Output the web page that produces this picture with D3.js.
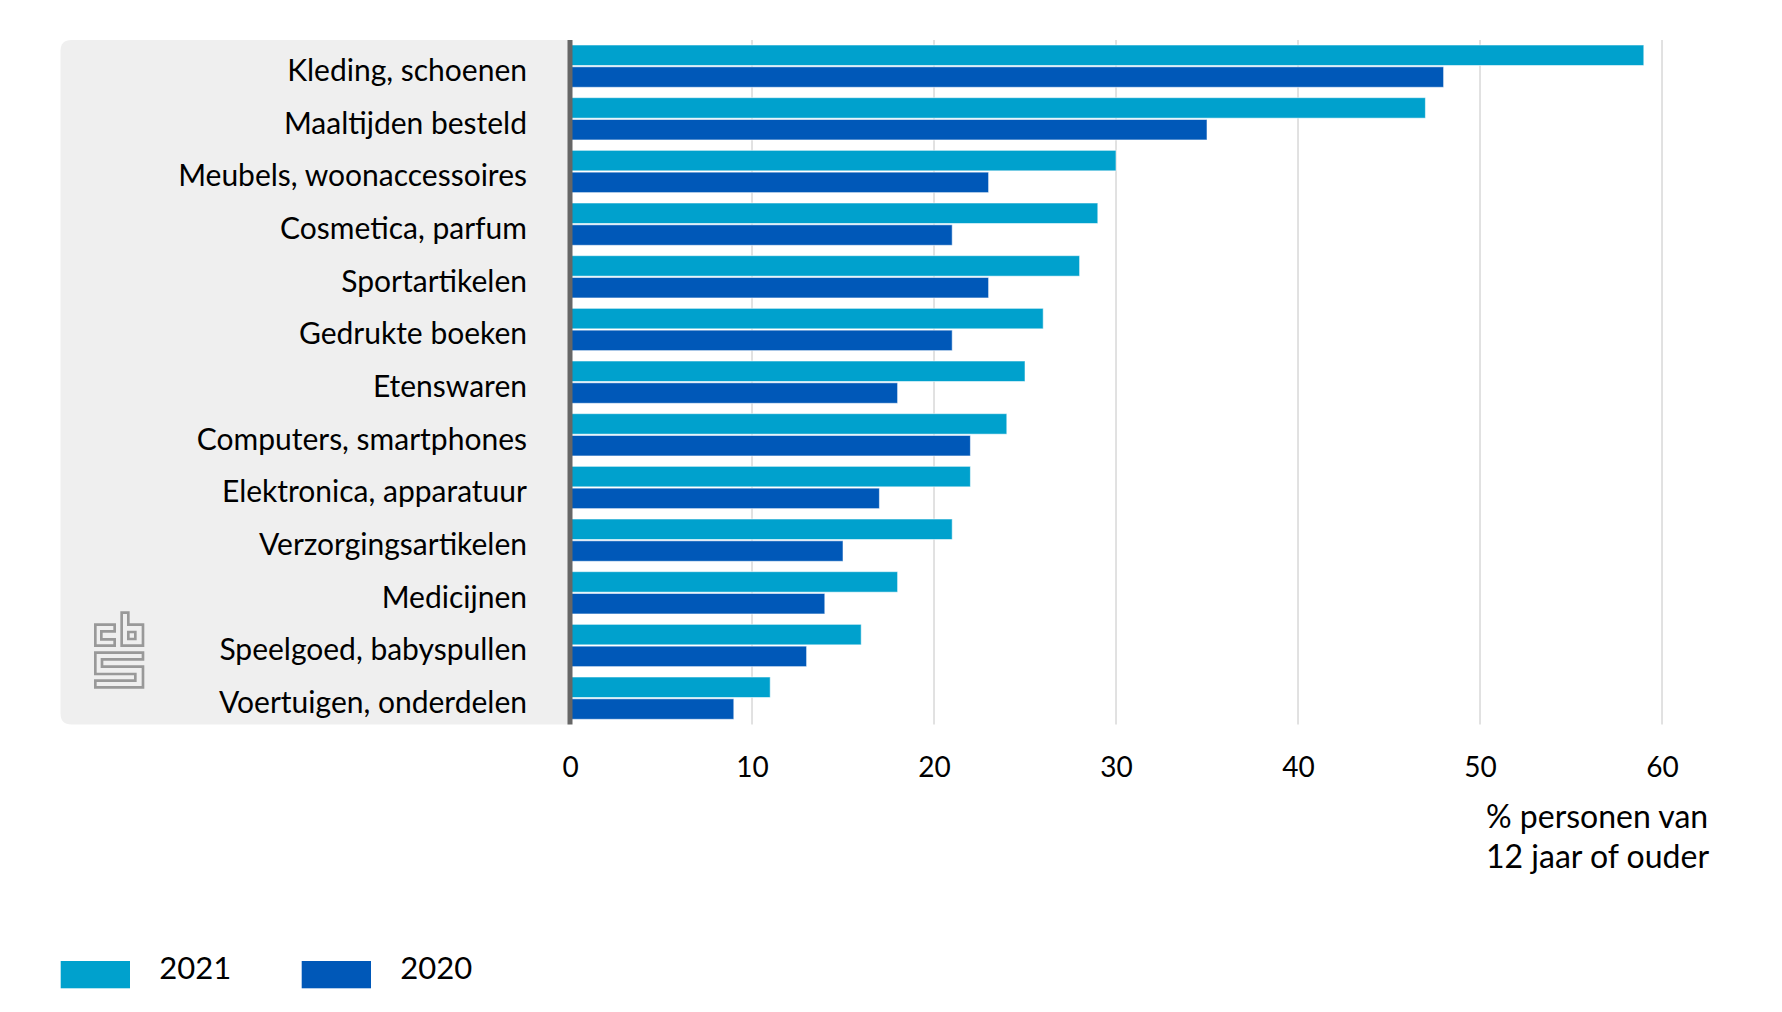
<!DOCTYPE html>
<html>
<head>
<meta charset="utf-8">
<script src="https://cdn.jsdelivr.net/npm/d3@7"></script>
<style>
  html, body { margin: 0; padding: 0; background: #fff; }
  svg text { font-family: Lato, "Noto Sans", sans-serif; fill: #000; }
</style>
</head>
<body>
<div class="svg-canvas"></div>
<script>
// Data (online aankopen, % personen van 12 jaar of ouder)
var categories = [
    "Kleding, schoenen", "Maaltijden besteld", "Meubels, woonaccessoires",
    "Cosmetica, parfum", "Sportartikelen", "Gedrukte boeken", "Etenswaren",
    "Computers, smartphones", "Elektronica, apparatuur", "Verzorgingsartikelen",
    "Medicijnen", "Speelgoed, babyspullen", "Voertuigen, onderdelen"
];
var values2021 = [59, 47, 30, 29, 28, 26, 25, 24, 22, 21, 18, 16, 11];
var values2020 = [48, 35, 23, 21, 23, 21, 18, 22, 17, 15, 14, 13, 9];
var seriesNames = ["2021", "2020"];
var seriesColors = ["#00a1cd", "#0058b8"];
var xTicks = [0, 10, 20, 30, 40, 50, 60];
var axisTitle = ["% personen van", "12 jaar of ouder"];

// Canvas
var cv = {};
cv.width = 1782;
cv.height = 1012;
cv.panel = { left: 60.5, top: 40, bottom: 724.5 };

var svg = d3.select("body").select(".svg-canvas").append("svg")
    .attr("width", cv.width)
    .attr("height", cv.height);

// Scales
var x = d3.scaleLinear().domain([0, 60]).range([570, 1662]);
var y = d3.scaleBand().domain(categories).range([45, 719.3]).paddingInner(0.197);
var ySub = d3.scaleBand().domain(seriesNames).range([0, y.bandwidth()]).paddingInner(0.06);

// Grey label panel, rounded on the left side
var pl = cv.panel.left, pt = cv.panel.top, pb = cv.panel.bottom, pr = x(0), r = 11;
svg.append("path")
    .attr("d", "M" + pr + "," + pt + " H" + (pl + r) + " Q" + pl + "," + pt + " " + pl + "," + (pt + r) +
        " V" + (pb - r) + " Q" + pl + "," + pb + " " + (pl + r) + "," + pb + " H" + pr + " Z")
    .attr("fill", "#efefef");

// Gridlines
svg.append("g").selectAll("line")
    .data(xTicks.filter(function(d){ return d > 0; }))
    .enter()
    .append("line")
    .attr("x1", function(d){ return x(d); })
    .attr("x2", function(d){ return x(d); })
    .attr("y1", pt)
    .attr("y2", pb)
    .attr("stroke", "#c4c4c4")
    .attr("stroke-width", 1);

// Bars
var rows = categories.map(function(c, i){
    return { cat: c, vals: [values2021[i], values2020[i]] };
});

var groups = svg.append("g").selectAll("g")
    .data(rows)
    .enter()
    .append("g")
    .attr("transform", function(d){ return "translate(0," + y(d.cat) + ")"; });

groups.selectAll("rect")
    .data(function(d){ return d.vals.map(function(v, j){ return { s: seriesNames[j], v: v, j: j }; }); })
    .enter()
    .append("rect")
    .attr("x", x(0))
    .attr("y", function(d){ return ySub(d.s); })
    .attr("width", function(d){ return x(d.v) - x(0); })
    .attr("height", ySub.bandwidth())
    .attr("fill", function(d){ return seriesColors[d.j]; })
    .attr("stroke", "rgba(255,255,255,0.55)")
    .attr("stroke-width", 1);

// Vertical axis line at 0
svg.append("line")
    .attr("x1", x(0)).attr("x2", x(0))
    .attr("y1", pt).attr("y2", pb)
    .attr("stroke", "#666")
    .attr("stroke-width", 5);

// Category labels
svg.append("g").selectAll("text")
    .data(categories)
    .enter()
    .append("text")
    .attr("x", 527)
    .attr("y", function(d){ return y(d) + y.bandwidth() / 2 + 15; })
    .attr("text-anchor", "end")
    .style("font-size", "30px")
    .text(function(d){ return d; });

// X axis tick labels
var xAxis = d3.axisBottom(x).tickValues(xTicks).tickSize(0).tickPadding(0);
var gx = svg.append("g")
    .attr("transform", "translate(0,777)")
    .call(xAxis);
gx.select(".domain").remove();
gx.selectAll("text")
    .attr("dy", 0)
    .attr("y", 0)
    .style("font-size", "28px")
    .style("font-family", "Lato, sans-serif")
    .attr("fill", "#000");

// Axis title
svg.append("g").selectAll("text")
    .data(axisTitle)
    .enter()
    .append("text")
    .attr("x", 1486)
    .attr("y", function(d, i){ return 828 + i * 39.5; })
    .style("font-size", "32px")
    .text(function(d){ return d; });

// Legend
var legend = svg.append("g").selectAll("g")
    .data(seriesNames)
    .enter()
    .append("g")
    .attr("transform", function(d, i){ return "translate(" + (60.7 + i * 241) + ",0)"; });

legend.append("rect")
    .attr("x", 0)
    .attr("y", 961)
    .attr("width", 69.3)
    .attr("height", 27.3)
    .attr("fill", function(d, i){ return seriesColors[i]; });

legend.append("text")
    .attr("x", 98.6)
    .attr("y", 979.3)
    .style("font-size", "31px")
    .text(function(d){ return d; });

// CBS logo (outline letters c, b, s)
var logo = svg.append("g")
    .attr("transform", "translate(80,600) scale(0.3333)")
    .attr("fill", "none")
    .attr("stroke", "#999")
    .attr("stroke-width", 8);
logo.append("path").attr("d", "M46,74 H104 V94 H64 V118 H104 V137 H46 Z");
logo.append("path").attr("d", "M125,38 H145 V74 H189 V137 H125 Z M145,96 H166 V117 H145 Z");
logo.append("path").attr("d", "M46,158 H189 V178 H66 V200 H189 V262 H46 V242 H166 V222 H46 Z");
</script>
</body>
</html>
